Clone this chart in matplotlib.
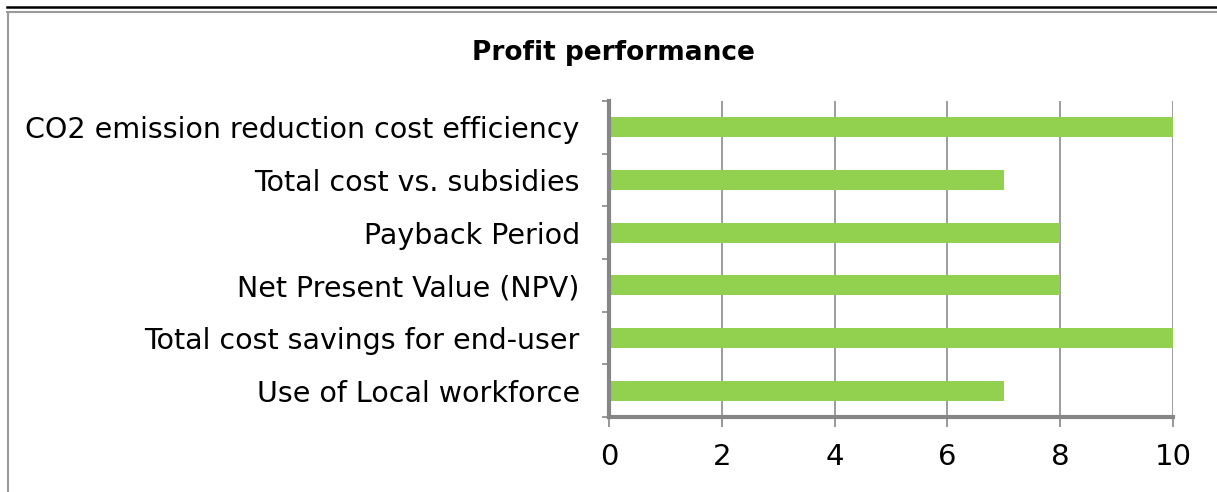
import numpy as np
import matplotlib.pyplot as plt
from matplotlib.lines import Line2D

categories = ["Use of Local workforce", "Total cost savings for end-user",
              "Net Present Value (NPV)", "Payback Period",
              "Total cost vs. subsidies", "CO2 emission reduction cost efficiency"]
scores = [7, 10, 8, 8, 7, 10]
x_ticks = [0, 2, 4, 6, 8, 10]

plt.rcParams['font.family'] = ['DejaVu Sans']

fig = plt.figure(figsize=(12.17, 4.92), dpi=100)
ax = fig.add_axes([0.5004, 0.1524, 0.4634, 0.6423])

y = np.arange(len(categories))
ax.barh(y, scores, height=0.38, color='#92D050', zorder=3)

ax.set_xlim(0, 10)
ax.set_ylim(-0.5, len(categories) - 0.5)
ax.set_xticks(x_ticks)
ax.set_xticklabels([str(t) for t in x_ticks], fontsize=21)
ax.set_yticks(y)
ax.set_yticklabels(categories, fontsize=20.5)
ax.tick_params(axis='y', length=0, pad=21)
ax.set_yticks(np.arange(-0.5, len(categories)), minor=True)
ax.tick_params(axis='y', which='minor', length=5, color='#868686', width=1.2)
ax.tick_params(axis='x', length=7, color='#868686', width=1.2, pad=12)

ax.grid(axis='x', color='#8c8c8c', linewidth=1.2, zorder=0)
for s in ['top', 'right']:
    ax.spines[s].set_visible(False)
for s in ['left', 'bottom']:
    ax.spines[s].set_color('#868686')
    ax.spines[s].set_linewidth(3)
    ax.spines[s].set_zorder(4)

fig.text(0.504, 0.892, "Profit performance", ha='center', va='center',
         fontsize=19, fontweight='bold')

# frame lines around the chart
fig.add_artist(Line2D([7/1217, 1], [1 - 7/492, 1 - 7/492], color='black', linewidth=1.8))
fig.add_artist(Line2D([7/1217, 1], [1 - 11.5/492, 1 - 11.5/492], color='#9a9a9a', linewidth=1.5))
fig.add_artist(Line2D([7.5/1217, 7.5/1217], [0, 1 - 11.5/492], color='#9a9a9a', linewidth=1.5))

fig.savefig('out.png', dpi=100)
